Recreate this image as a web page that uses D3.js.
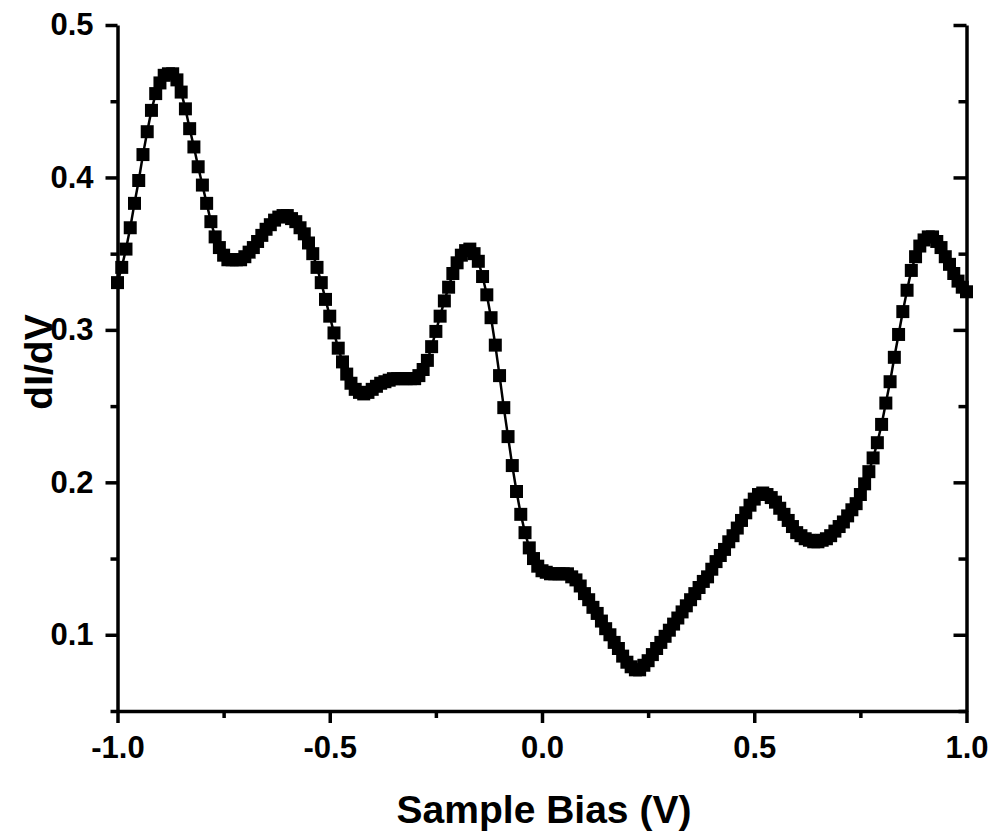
<!DOCTYPE html>
<html>
<head>
<meta charset="utf-8">
<script src="https://cdn.jsdelivr.net/npm/d3@7"></script>
<style>
  html, body { margin: 0; padding: 0; background: #fff; }
  svg { display: block; }
  text { font-family: "Liberation Sans", Arial, Helvetica, sans-serif; font-weight: bold; fill: #000; }
</style>
</head>
<body>
<svg id="chart" width="992" height="832"></svg>
<script>
// ---- data (bias grid: -1.00 ... 1.00 V, step 0.01) ----
const biasStart = -1.0;
const biasStep = 0.01;
const dIdV = [
  0.331,0.341,0.353,0.367,0.383,0.398,0.415,0.430,0.444,0.455,
  0.462,0.467,0.468,0.468,0.464,0.456,0.445,0.432,0.420,0.407,
  0.395,0.383,0.371,0.361,0.354,0.349,0.346,0.346,0.346,0.346,
  0.348,0.351,0.354,0.358,0.362,0.366,0.369,0.372,0.374,0.375,
  0.375,0.373,0.371,0.367,0.363,0.357,0.350,0.341,0.331,0.320,
  0.309,0.298,0.288,0.279,0.271,0.265,0.261,0.259,0.258,0.259,
  0.261,0.263,0.265,0.266,0.267,0.268,0.268,0.268,0.268,0.268,
  0.268,0.270,0.274,0.280,0.289,0.299,0.309,0.319,0.328,0.337,
  0.344,0.349,0.352,0.353,0.350,0.345,0.335,0.323,0.308,0.290,
  0.270,0.249,0.230,0.211,0.194,0.179,0.167,0.157,0.150,0.145,
  0.142,0.141,0.140,0.140,0.140,0.140,0.140,0.138,0.136,0.132,
  0.127,0.123,0.118,0.114,0.109,0.104,0.100,0.095,0.091,0.086,
  0.082,0.079,0.077,0.077,0.080,0.083,0.087,0.091,0.095,0.099,
  0.103,0.107,0.111,0.115,0.119,0.123,0.127,0.131,0.135,0.138,
  0.143,0.148,0.152,0.156,0.161,0.165,0.170,0.175,0.180,0.185,
  0.189,0.192,0.193,0.192,0.190,0.187,0.183,0.179,0.175,0.171,
  0.167,0.165,0.163,0.162,0.161,0.161,0.162,0.163,0.165,0.168,
  0.171,0.174,0.178,0.182,0.186,0.192,0.199,0.207,0.216,0.226,
  0.238,0.252,0.266,0.282,0.297,0.312,0.326,0.339,0.348,0.355,
  0.359,0.361,0.361,0.358,0.354,0.348,0.343,0.337,0.332,0.328,
  0.325
];
const xMajorTicks = [-1.0, -0.5, 0.0, 0.5, 1.0];
const xMinorTicks = [-0.75, -0.25, 0.25, 0.75];
const yMajorTicks = [0.1, 0.2, 0.3, 0.4, 0.5];
const yMinorTicks = [0.05, 0.15, 0.25, 0.35, 0.45];
const xDomain = [-1.0, 1.0];
const yDomain = [0.05, 0.5];
const xTitle = "Sample Bias (V)";
const yTitle = "dI/dV";

const points = dIdV.map((v, i) => ({ x: +(biasStart + i * biasStep).toFixed(2), y: v }));

// ---- layout ----
const L = 117.5, R = 966.5, T = 25, B = 711;
const svg = d3.select("#chart");
const x = d3.scaleLinear().domain(xDomain).range([L, R]);
const y = d3.scaleLinear().domain(yDomain).range([B, T]);
const fmt = d => d.toFixed(1);
const AXW = 3.5;
const TICKFONT = "31px";

function styleAxis(g) {
  g.select(".domain").attr("stroke", "#000").attr("stroke-width", AXW);
  g.selectAll(".tick line").attr("stroke", "#000").attr("stroke-width", AXW);
  g.selectAll(".tick text").attr("fill", "#000")
    .style("font-size", TICKFONT)
    .style("font-family", "Liberation Sans, Arial, sans-serif")
    .style("font-weight", "bold");
}

// bottom axis
svg.append("g").attr("transform", `translate(0,${B})`)
  .call(d3.axisBottom(x).tickValues(xMajorTicks).tickSize(12).tickSizeOuter(0).tickPadding(13).tickFormat(fmt))
  .call(styleAxis);
svg.append("g").attr("transform", `translate(0,${B})`)
  .call(d3.axisBottom(x).tickValues(xMinorTicks).tickSize(7).tickSizeOuter(0).tickFormat(""))
  .call(styleAxis)
  .call(g => g.select(".domain").remove());

// left axis
svg.append("g").attr("transform", `translate(${L},0)`)
  .call(d3.axisLeft(y).tickValues(yMajorTicks).tickSize(12).tickSizeOuter(0).tickPadding(12).tickFormat(fmt))
  .call(styleAxis);
svg.append("g").attr("transform", `translate(${L},0)`)
  .call(d3.axisLeft(y).tickValues(yMinorTicks).tickSize(7).tickSizeOuter(0).tickFormat(""))
  .call(styleAxis)
  .call(g => g.select(".domain").remove());

// right axis (ticks inward, no labels)
svg.append("g").attr("transform", `translate(${R},0)`)
  .call(d3.axisRight(y).tickValues(yMajorTicks).tickSize(-13).tickSizeOuter(0).tickFormat(""))
  .call(styleAxis);
svg.append("g").attr("transform", `translate(${R},0)`)
  .call(d3.axisRight(y).tickValues(yMinorTicks).tickSize(-8).tickSizeOuter(0).tickFormat(""))
  .call(styleAxis)
  .call(g => g.select(".domain").remove());

// connecting line
const line = d3.line().x(d => x(d.x)).y(d => y(d.y));
svg.append("path").datum(points)
  .attr("fill", "none").attr("stroke", "#000").attr("stroke-width", 2.5)
  .attr("d", line);

// square markers
const sq = d3.symbol().type(d3.symbolSquare).size(13 * 13);
svg.append("g").selectAll("path.pt").data(points).join("path")
  .attr("class", "pt")
  .attr("transform", d => `translate(${x(d.x)},${y(d.y)})`)
  .attr("d", sq)
  .attr("fill", "#000");

// titles
svg.append("text")
  .attr("x", (L + R) / 2 + 2).attr("y", 823)
  .attr("text-anchor", "middle")
  .style("font-size", "39px")
  .text(xTitle);
svg.append("text")
  .attr("transform", `translate(52,${(T + B) / 2 - 6}) rotate(-90)`)
  .attr("text-anchor", "middle")
  .style("font-size", "39px")
  .text(yTitle);
</script>
</body>
</html>
